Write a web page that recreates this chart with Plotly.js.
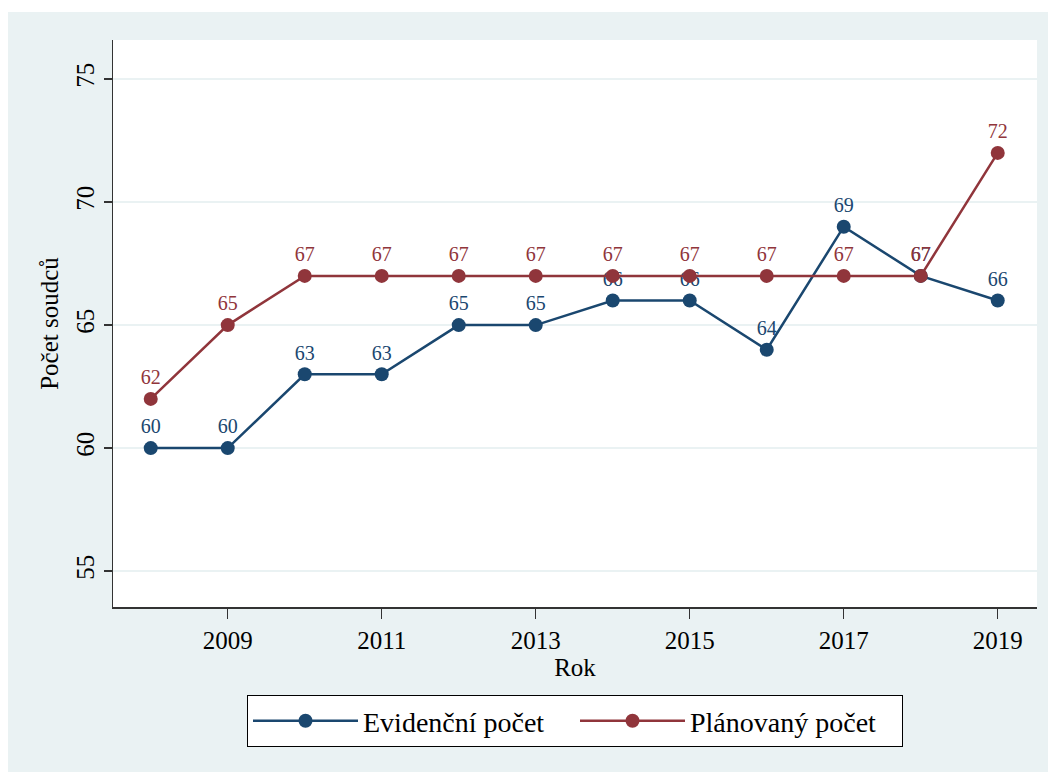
<!DOCTYPE html>
<html><head><meta charset="utf-8">
<script src="https://cdn.plot.ly/plotly-3.0.1.min.js"></script>
<style>html,body{margin:0;padding:0;background:#fff}</style>
</head><body>
<div id="chart" style="width:1052px;height:772px"></div>
<script>
const years = [2008,2009,2010,2011,2012,2013,2014,2015,2016,2017,2018,2019];
const evidencni = [60,60,63,63,65,65,66,66,64,69,67,66];
const planovany = [62,65,67,67,67,67,67,67,67,67,67,72];
const seriesNames = ["Evidenční počet","Plánovaný počet"];
const xTitle = "Rok";
const yTitle = "Počet soudců";

const BLUE = "#1a476f", RED = "#90353b", BG = "#eaf2f3";
const FONT = "'Liberation Serif', 'Times New Roman', serif";

function trace(y, name, color){
  return {x: years, y: y, name: name, type: "scatter", mode: "lines+markers+text",
    text: y.map(String), textposition: "top center",
    textfont: {family: FONT, size: 20, color: color},
    line: {color: color, width: 2.5}, marker: {color: color, size: 14},
    cliponaxis: false};
}

const L = 113, R = 15, T = 40, B = 165, W = 1052, H = 772;
const pw = W - L - R, ph = H - T - B;
const px = v => (v - L) / pw;
const py = v => (H - B - v) / ph;

const layout = {
  width: W, height: H,
  margin: {l: L, r: R, t: T, b: B, pad: 0},
  paper_bgcolor: BG, plot_bgcolor: "#ffffff",
  font: {family: FONT, size: 25, color: "#000"},
  showlegend: true,
  xaxis: {range: [2007.51, 2019.51], tickmode: "linear", tick0: 2009, dtick: 2,
    showgrid: false, zeroline: false, showline: true, linecolor: "#333", linewidth: 1.5,
    ticks: "outside", ticklen: 10, tickcolor: "#333", tickwidth: 1.5,
    tickfont: {family: FONT, size: 25, color: "#000"},
    title: {text: xTitle, font: {family: FONT, size: 25, color: "#000"}, standoff: 2}},
  yaxis: {range: [53.54, 76.59], tickmode: "linear", tick0: 55, dtick: 5,
    showgrid: true, gridcolor: BG, gridwidth: 2, zeroline: false,
    showline: true, linecolor: "#333", linewidth: 1.5,
    ticks: "outside", ticklen: 8, tickcolor: "#333", tickwidth: 1.5, tickangle: -90,
    tickfont: {family: FONT, size: 25, color: "#000"},
    title: {text: yTitle, font: {family: FONT, size: 25, color: "#000"}, standoff: 6}},
  legend: {orientation: "h", x: 0.5, xanchor: "center", y: py(695), yanchor: "top",
    bgcolor: "#ffffff", bordercolor: "#000", borderwidth: 1,
    font: {family: FONT, size: 28, color: "#000"}, itemwidth: 105, entrywidth: 207},
  shapes: [
    {type: "rect", xref: "paper", yref: "paper", x0: px(0), x1: px(W), y0: py(12), y1: py(0),
     fillcolor: "#fff", line: {width: 0}, layer: "above"},
    {type: "rect", xref: "paper", yref: "paper", x0: px(0), x1: px(8), y0: py(H), y1: py(0),
     fillcolor: "#fff", line: {width: 0}, layer: "above"},
    {type: "rect", xref: "paper", yref: "paper", x0: px(1048), x1: px(W), y0: py(H), y1: py(0),
     fillcolor: "#fff", line: {width: 0}, layer: "above"}
  ]
};

Plotly.newPlot("chart", [trace(evidencni, seriesNames[0], BLUE), trace(planovany, seriesNames[1], RED)],
  layout, {displayModeBar: false, staticPlot: true});
</script>
</body></html>
